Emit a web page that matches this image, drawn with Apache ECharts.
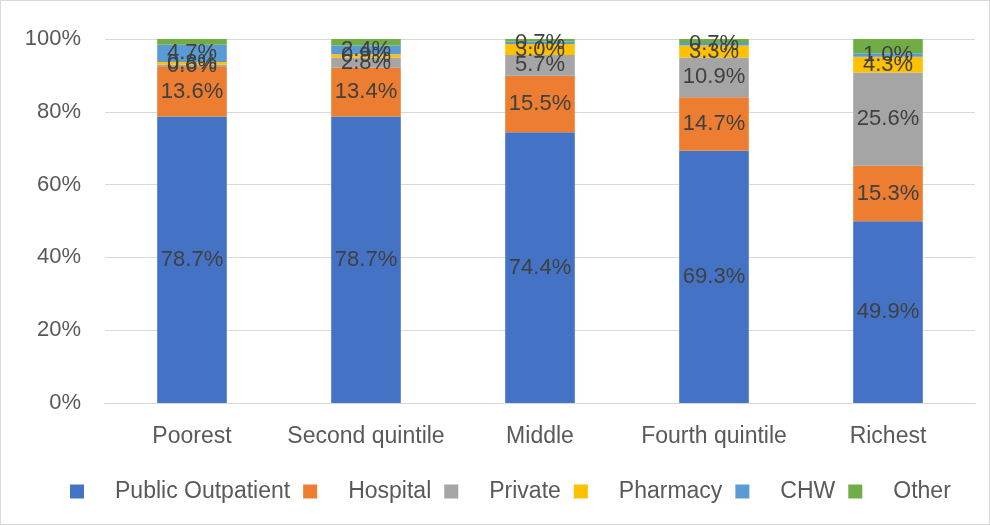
<!DOCTYPE html>
<html>
<head>
<meta charset="utf-8">
<script src="https://cdn.jsdelivr.net/npm/echarts@6/dist/echarts.min.js"></script>
<style>
  html, body { margin: 0; padding: 0; background: #fff; }
  #chart { width: 990px; height: 525px; box-sizing: border-box; border: 1px solid #d9d9d9; }
</style>
</head>
<body>
<div id="chart"></div>
<script>
const categories = ["Poorest", "Second quintile", "Middle", "Fourth quintile", "Richest"];
const publicOutpatient = [78.7, 78.7, 74.4, 69.3, 49.9];
const hospital = [13.6, 13.4, 15.5, 14.7, 15.3];
const privateCare = [0.6, 2.8, 5.7, 10.9, 25.6];
const pharmacy = [0.8, 0.9, 3.0, 3.3, 4.3];
const chw = [4.7, 2.4, 0.7, 0.7, 1.0];
const other = [1.6, 1.8, 0.7, 1.1, 3.9];
const yTicks = [0, 20, 40, 60, 80, 100];

const font = "'Liberation Sans Narrow', 'Arial Narrow', 'Liberation Sans', sans-serif";
const textColor = "#595959";

const chart = echarts.init(document.getElementById("chart"));

function makeSeries(name, data, color, showLabel) {
  return {
    name: name,
    type: "bar",
    stack: "total",
    barWidth: "40%",
    data: data,
    itemStyle: { color: color },
    label: {
      show: showLabel,
      position: "inside",
      formatter: p => p.value.toFixed(1) + "%",
      color: "#404040",
      fontSize: 22,
      fontFamily: font
    },
    labelLayout: { hideOverlap: false }
  };
}

chart.setOption({
  animation: false,
  textStyle: { fontFamily: font },
  grid: { left: 104, right: 14, top: 38, bottom: 121 },
  legend: {
    top: 474,
    left: 64,
    icon: "rect",
    itemWidth: 14,
    itemHeight: 14,
    itemGap: 13,
    textStyle: { color: textColor, fontSize: 23, fontFamily: font, padding: [0, 0, 0, 26] }
  },
  xAxis: {
    type: "category",
    data: categories,
    axisTick: { show: false },
    axisLine: { lineStyle: { color: "#d9d9d9" } },
    axisLabel: { color: textColor, fontSize: 23, margin: 22, interval: 0, fontFamily: font }
  },
  yAxis: {
    type: "value",
    min: yTicks[0],
    max: yTicks[yTicks.length - 1],
    interval: 20,
    axisLine: { show: false },
    axisTick: { show: false },
    splitLine: { lineStyle: { color: "#d9d9d9" } },
    axisLabel: { color: textColor, fontSize: 22, margin: 24, fontFamily: font, formatter: "{value}%" }
  },
  series: [
    makeSeries("Public Outpatient", publicOutpatient, "#4472C4", true),
    makeSeries("Hospital", hospital, "#ED7D31", true),
    makeSeries("Private", privateCare, "#A5A5A5", true),
    makeSeries("Pharmacy", pharmacy, "#FFC000", true),
    makeSeries("CHW", chw, "#5B9BD5", true),
    makeSeries("Other", other, "#70AD47", false)
  ]
});
</script>
</body>
</html>
